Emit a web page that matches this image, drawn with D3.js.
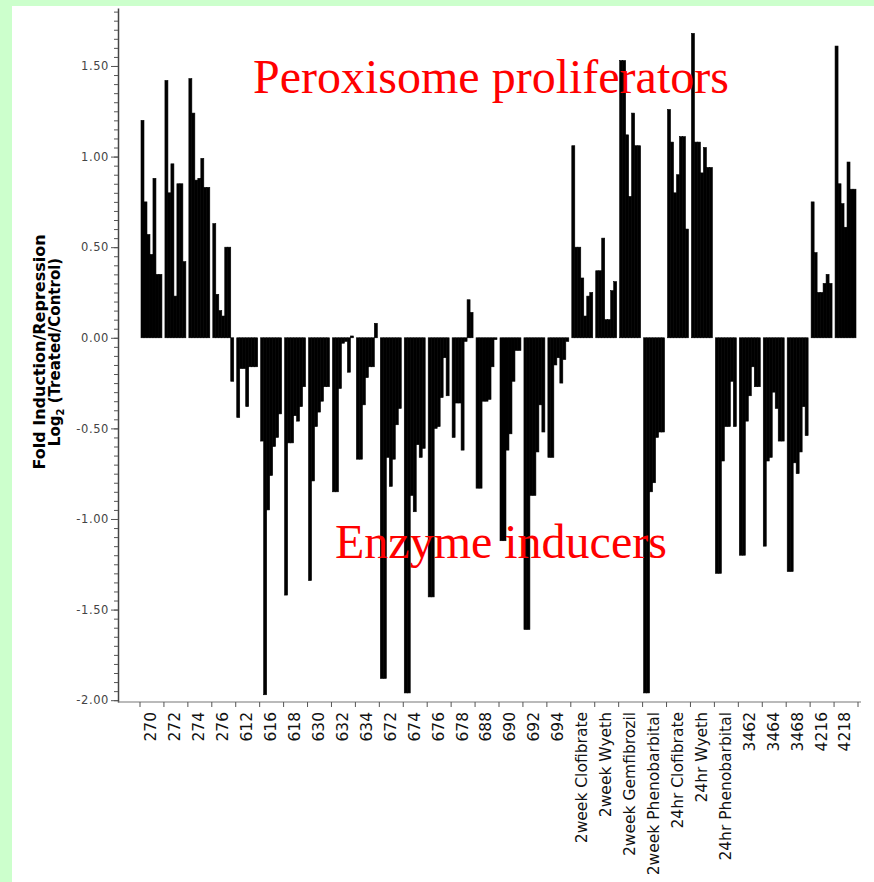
<!DOCTYPE html>
<html>
<head>
<meta charset="utf-8">
<script src="https://cdn.jsdelivr.net/npm/d3@7"></script>
<style>
  body { margin: 0; background: #ccffcc; }
  svg { display: block; }
</style>
</head>
<body>
<div id="chart"></div>
<script>
// treatment groups along the x axis
var groups = ["270", "272", "274", "276", "612", "616", "618", "630", "632", "634",
    "672", "674", "676", "678", "688", "690", "692", "694",
    "2week Clofibrate", "2week Wyeth", "2week Gemfibrozil", "2week Phenobarbital",
    "24hr Clofibrate", "24hr Wyeth", "24hr Phenobarbital",
    "3462", "3464", "3468", "4216", "4218"];

// log2 fold change for the genes in each group (same order as groups)
var foldValues = [
    [1.20, 0.75, 0.57, 0.46, 0.88, 0.35, 0.35],
    [1.42, 0.80, 0.96, 0.23, 0.85, 0.85, 0.42],
    [1.43, 1.24, 0.87, 0.88, 0.99, 0.83, 0.83],
    [0.63, 0.24, 0.15, 0.12, 0.50, 0.50, -0.24],
    [-0.44, -0.17, -0.17, -0.38, -0.16, -0.16, -0.16],
    [-0.57, -1.97, -0.95, -0.76, -0.60, -0.55, -0.42],
    [-1.42, -0.58, -0.58, -0.43, -0.46, -0.38, -0.27],
    [-1.34, -0.79, -0.49, -0.41, -0.35, -0.27, -0.27],
    [-0.85, -0.85, -0.28, -0.03, -0.02, -0.19, 0.01],
    [-0.67, -0.67, -0.37, -0.22, -0.16, -0.16, 0.08],
    [-1.88, -1.88, -0.66, -0.82, -0.67, -0.48, -0.39],
    [-1.96, -1.96, -0.87, -0.96, -0.59, -0.66, -0.61],
    [-1.43, -1.43, -0.50, -0.49, -0.33, -0.11, -0.32],
    [-0.55, -0.36, -0.36, -0.62, -0.02, 0.21, 0.14],
    [-0.83, -0.83, -0.35, -0.35, -0.34, -0.16, -0.01],
    [-1.12, -1.12, -0.62, -0.53, -0.24, -0.07, -0.07],
    [-1.61, -1.61, -0.87, -0.87, -0.63, -0.37, -0.52],
    [-0.66, -0.66, -0.15, -0.11, -0.25, -0.12, -0.02],
    [1.06, 0.50, 0.50, 0.33, 0.12, 0.23, 0.25],
    [0.37, 0.37, 0.55, 0.10, 0.10, 0.26, 0.31],
    [1.53, 1.53, 1.12, 0.78, 1.24, 1.06, 1.06],
    [-1.96, -1.96, -0.85, -0.80, -0.55, -0.52, -0.52],
    [1.26, 1.08, 0.80, 0.90, 1.11, 1.11, 0.60],
    [1.68, 1.08, 1.08, 0.91, 1.05, 0.94, 0.94],
    [-1.30, -1.30, -0.68, -0.49, -0.49, -0.24, -0.49],
    [-1.20, -1.20, -0.46, -0.32, -0.16, -0.27, -0.27],
    [-1.15, -0.68, -0.66, -0.30, -0.39, -0.57, -0.57],
    [-1.29, -1.29, -0.69, -0.75, -0.63, -0.38, -0.54],
    [0.75, 0.47, 0.25, 0.25, 0.30, 0.35, 0.30],
    [1.61, 0.85, 0.74, 0.61, 0.97, 0.82, 0.82]
];

var yMajorTicks = [-2.0, -1.5, -1.0, -0.5, 0.0, 0.5, 1.0, 1.5];
var yMinorTicks = d3.range(-40, 37).map(i => i / 20);

var width = 874, height = 882;

var svg = d3.select("#chart")
    .append("svg")
    .attr("width", width)
    .attr("height", height);

// green page border + white panel
svg.append("rect").attr("width", width).attr("height", height).attr("fill", "#ccffcc");
svg.append("rect").attr("x", 12).attr("y", 6).attr("width", width - 12).attr("height", height - 6).attr("fill", "#ffffff");

var x = d3.scaleBand().domain(groups).range([140, 858]);
var inner = d3.scaleBand().domain(d3.range(7)).range([1, x.bandwidth() - 2]);
var y = d3.scaleLinear().domain([-2.01, 1.82]).range([702, 8]);

// bars
var bars = [];
groups.forEach(function(g, gi) {
    foldValues[gi].forEach(function(v, i) {
        bars.push({ group: g, index: i, value: v });
    });
});

svg.append("g")
    .selectAll("rect")
    .data(bars)
    .enter().append("rect")
    .attr("x", d => x(d.group) + inner(d.index))
    .attr("width", inner.bandwidth())
    .attr("y", d => y(Math.max(0, d.value)))
    .attr("height", d => Math.abs(y(d.value) - y(0)))
    .attr("fill", "#000")
    .attr("stroke", "#000")
    .attr("stroke-width", 0.6);

// y axis
var fmt = v => d3.format(".2f")(v).replace("\u2212", "-");

var yAxisMinor = svg.append("g")
    .attr("transform", "translate(118,0)")
    .call(d3.axisLeft(y).tickValues(yMinorTicks).tickSize(4).tickSizeOuter(0).tickFormat(""));
yAxisMinor.selectAll("line").attr("stroke", "#555");
yAxisMinor.select(".domain").attr("stroke", "#444").attr("stroke-width", 1.5);

var yAxis = svg.append("g")
    .attr("transform", "translate(118,0)")
    .call(d3.axisLeft(y).tickValues(yMajorTicks).tickSize(7).tickPadding(2).tickSizeOuter(0).tickFormat(fmt));
yAxis.select(".domain").remove();
yAxis.selectAll("line").attr("stroke", "#555");
yAxis.selectAll("text")
    .attr("fill", "#444")
    .style("font-family", "DejaVu Sans")
    .style("font-size", "11.5px")
    .style("letter-spacing", "0.6px");

// x axis: ticks at group boundaries, labels at group centers
var xAxis = svg.append("g").attr("class", "x-axis");
xAxis.append("line")
    .attr("x1", 118).attr("x2", 861)
    .attr("y1", 702).attr("y2", 702)
    .attr("stroke", "#777").attr("stroke-width", 1.2);

var bounds = groups.map(g => x(g)).concat([x.range()[1]]);
xAxis.selectAll(".tick")
    .data(bounds)
    .enter().append("line")
    .attr("class", "tick")
    .attr("x1", d => d).attr("x2", d => d)
    .attr("y1", 702).attr("y2", 707)
    .attr("stroke", "#555");

xAxis.selectAll(".xlabel")
    .data(groups)
    .enter().append("text")
    .attr("class", "xlabel")
    .attr("transform", d => "translate(" + (x(d) + x.bandwidth() / 2 - 1) + ",712) rotate(-90)")
    .attr("dy", "0.35em")
    .attr("text-anchor", "end")
    .style("font-family", "DejaVu Sans")
    .style("font-size", "15.5px")
    .attr("fill", "#111")
    .text(d => d);

// y axis title
svg.append("text")
    .attr("transform", "translate(45,352) rotate(-90)")
    .attr("text-anchor", "middle")
    .style("font-family", "DejaVu Sans")
    .style("font-weight", "bold")
    .style("font-size", "16px")
    .text("Fold Induction/Repression");

var t2 = svg.append("text")
    .attr("transform", "translate(60,352) rotate(-90)")
    .attr("text-anchor", "middle")
    .style("font-family", "DejaVu Sans")
    .style("font-weight", "bold")
    .style("font-size", "15px");
t2.append("tspan").text("Log");
t2.append("tspan").attr("dy", 4).style("font-size", "10px").text("2");
t2.append("tspan").attr("dy", -4).text(" (Treated/Control)");

// red annotations
svg.append("text")
    .attr("x", 253).attr("y", 93)
    .attr("fill", "#ff0000")
    .style("font-family", "Liberation Serif")
    .style("font-size", "48px")
    .text("Peroxisome proliferators");

svg.append("text")
    .attr("x", 335).attr("y", 558)
    .attr("fill", "#ff0000")
    .style("font-family", "Liberation Serif")
    .style("font-size", "48px")
    .text("Enzyme inducers");
</script>
</body>
</html>
